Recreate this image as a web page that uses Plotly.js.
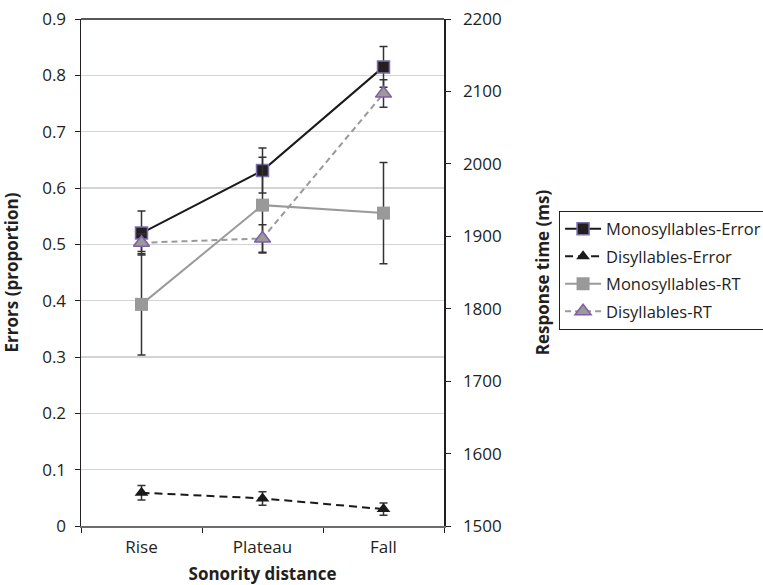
<!DOCTYPE html>
<html>
<head>
<meta charset="utf-8">
<script src="https://cdn.plot.ly/plotly-3.0.1.min.js"></script>
<style>html,body{margin:0;padding:0;background:#fff;overflow:hidden;width:763px;height:585px;}#chart{width:800px;height:585px;}</style>
</head>
<body>
<div id="chart"></div>
<script>
// ---- data ----
var categories = ["Rise", "Plateau", "Fall"];
var seriesNames = ["Monosyllables-Error", "Disyllables-Error", "Monosyllables-RT", "Disyllables-RT"];
var monoError = [0.520, 0.631, 0.815];
var monoErrorSE = [0.039, 0.040, 0.036];
var disError = [0.059, 0.049, 0.030];
var disErrorSE = [0.013, 0.012, 0.011];
var monoRT = [1806, 1943, 1932];
var monoRTSE = [70, 66, 70];
var disRT = [1891, 1897, 2097];
var disRTSE = [12, 19, 19];
var leftTicks = [0, 0.1, 0.2, 0.3, 0.4, 0.5, 0.6, 0.7, 0.8, 0.9];
var leftTickText = ["0", "0.1", "0.2", "0.3", "0.4", "0.5", "0.6", "0.7", "0.8", "0.9"];
var rightTicks = [1500, 1600, 1700, 1800, 1900, 2000, 2100, 2200];

var FONT = '"Open Sans", "DejaVu Sans", sans-serif';
var TXT = '#231f20';
var errStyle = {type: 'data', visible: true, color: '#333333', thickness: 1.5, width: 4};

function eb(arr) { return Object.assign({array: arr}, errStyle); }

var traces = [
  {
    x: categories, y: monoError, name: seriesNames[0], legendgroup: 'g1', type: 'scatter', mode: 'lines+markers',
    yaxis: 'y', error_y: eb(monoErrorSE),
    line: {color: '#1a1a1a', width: 2},
    marker: {symbol: 'square', size: 12, color: '#231f20', line: {color: '#7b6fb0', width: 1.5}}
  },
  {
    x: categories, y: disError, name: seriesNames[1], legendgroup: 'g2', type: 'scatter', mode: 'lines+markers',
    yaxis: 'y', error_y: eb(disErrorSE),
    line: {color: '#1a1a1a', width: 2, dash: '8px,5px'},
    marker: {symbol: 'triangle-up', size: 12, color: '#1a1a1a', line: {color: '#1a1a1a', width: 0}}
  },
  {
    x: categories, y: monoRT, name: seriesNames[2], legendgroup: 'g3', type: 'scatter', mode: 'lines+markers',
    yaxis: 'y2', error_y: eb(monoRTSE),
    line: {color: '#9a9a9a', width: 2},
    marker: {symbol: 'square', size: 13, color: '#999999', line: {width: 0}}
  },
  {
    x: categories, y: disRT, name: seriesNames[3], legendgroup: 'g4', type: 'scatter', mode: 'lines+markers',
    yaxis: 'y2', error_y: eb(disRTSE),
    line: {color: '#9a9a9a', width: 2, dash: '6px,4px'},
    marker: {symbol: 'triangle-up', size: 14, color: '#9a9a9a', line: {color: '#7f5fa8', width: 1.5}}
  }
];

var layout = {
  width: 800, height: 585,
  margin: {l: 81, r: 356, t: 19, b: 59, pad: 0},
  paper_bgcolor: '#fff', plot_bgcolor: '#fff',
  font: {family: FONT, size: 17, color: TXT},
  showlegend: true,
  legend: {
    x: 1.317, xanchor: 'left', y: 0.622, yanchor: 'top',
    bordercolor: '#231f20', borderwidth: 1, bgcolor: '#fff',
    font: {family: FONT, size: 16.5, color: TXT},
    traceorder: 'grouped', tracegroupgap: 3, itemwidth: 36
  },
  xaxis: {
    type: 'category', range: [-0.5, 2.5],
    showline: true, linecolor: '#6d6d6d', linewidth: 2,
    ticks: 'outside', tickson: 'boundaries', ticklen: 5, tickcolor: '#231f20', tickwidth: 1,
    showgrid: false, zeroline: false, ticklabelstandoff: 5,
    tickfont: {family: FONT, size: 17, color: TXT},
    title: {text: '<b>Sonority distance</b>', font: {family: FONT, size: 17, color: TXT}, standoff: 12},
    automargin: false
  },
  yaxis: {
    range: [0, 0.9], tickvals: leftTicks, ticktext: leftTickText,
    showline: true, linecolor: '#231f20', linewidth: 1.5,
    ticks: 'outside', ticklen: 5, tickcolor: '#231f20', ticklabelstandoff: 5,
    showgrid: true, gridcolor: '#d4d4d4', gridwidth: 1.5, zeroline: false,
    tickfont: {family: FONT, size: 17, color: TXT},
    title: {text: '<b>Errors (proportion)</b>', font: {family: FONT, size: 17, color: TXT}, standoff: 19},
    automargin: false
  },
  yaxis2: {
    range: [1500, 2200], tickvals: rightTicks, overlaying: 'y', side: 'right',
    showline: true, linecolor: '#231f20', linewidth: 1.5,
    ticks: 'outside', ticklen: 5, tickcolor: '#231f20', ticklabelstandoff: 9,
    showgrid: false, zeroline: false,
    tickfont: {family: FONT, size: 17, color: TXT},
    title: {text: '<b>Response time (ms)</b>', font: {family: FONT, size: 17, color: TXT}, standoff: 36},
    automargin: false
  },
  shapes: [
    {type: 'line', xref: 'paper', yref: 'paper', x0: 0, x1: 1, y0: 1, y1: 1, line: {color: '#231f20', width: 1.5}}
  ]
};

Plotly.newPlot('chart', traces, layout, {staticPlot: true, displayModeBar: false});
</script>
</body>
</html>
